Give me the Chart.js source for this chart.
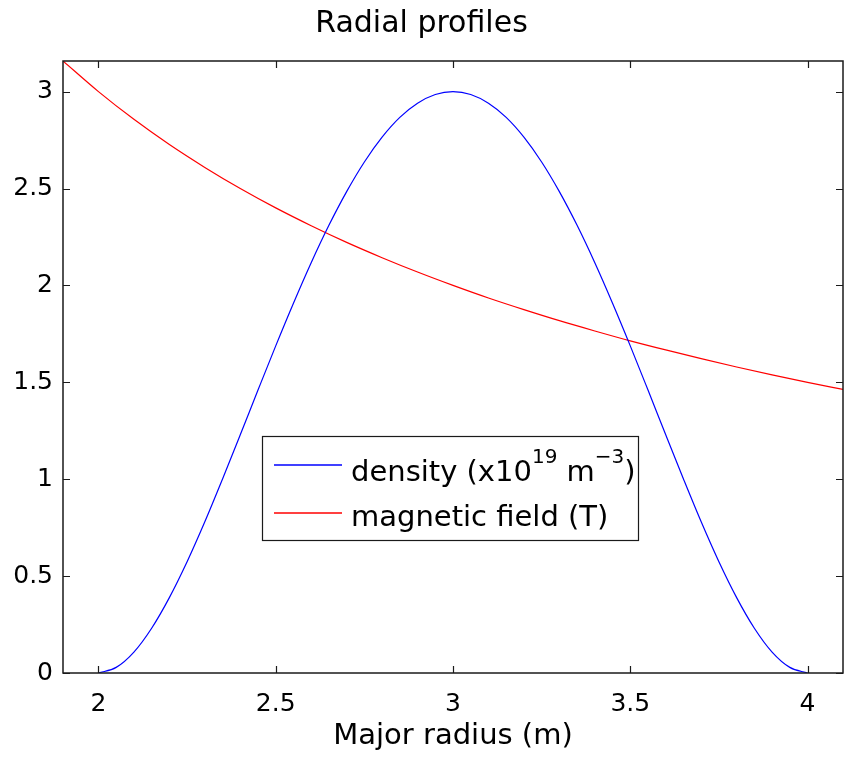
<!DOCTYPE html>
<html>
<head>
<meta charset="utf-8">
<script src="https://cdn.jsdelivr.net/npm/chart.js@4"></script>
<style>
  html, body { margin: 0; padding: 0; background: #ffffff; }
  #wrap { width: 844px; height: 762px; }
</style>
</head>
<body>
<div id="wrap"><canvas id="c" width="844" height="762"></canvas></div>
<script>
// ---- data ----
const chartTitle = 'Radial profiles';
const xAxisTitle = 'Major radius (m)';
const xTicks = [2, 2.5, 3, 3.5, 4];
const yTicks = [0, 0.5, 1, 1.5, 2, 2.5, 3];

const densityR = [2.00, 2.05, 2.10, 2.15, 2.20, 2.25, 2.30, 2.35, 2.40, 2.45,
                  2.50, 2.55, 2.60, 2.65, 2.70, 2.75, 2.80, 2.85, 2.90, 2.95,
                  3.00, 3.05, 3.10, 3.15, 3.20, 3.25, 3.30, 3.35, 3.40, 3.45,
                  3.50, 3.55, 3.60, 3.65, 3.70, 3.75, 3.80, 3.85, 3.90, 3.95, 4.00];
const densityValues = [0, 0.029, 0.108, 0.231, 0.389, 0.574, 0.780, 1.001, 1.229, 1.460,
                       1.688, 1.908, 2.117, 2.310, 2.484, 2.637, 2.765, 2.867, 2.940, 2.985,
                       3.000, 2.985, 2.940, 2.867, 2.765, 2.637, 2.484, 2.310, 2.117, 1.908,
                       1.688, 1.460, 1.229, 1.001, 0.780, 0.574, 0.389, 0.231, 0.108, 0.029, 0];

const fieldR = [1.9, 2.0, 2.1, 2.2, 2.3, 2.4, 2.5, 2.6, 2.7, 2.8, 2.9, 3.0,
                3.1, 3.2, 3.3, 3.4, 3.5, 3.6, 3.7, 3.8, 3.9, 4.0, 4.1];
const fieldValues = [3.158, 3.000, 2.857, 2.727, 2.609, 2.500, 2.400, 2.308, 2.222, 2.143, 2.069, 2.000,
                     1.935, 1.875, 1.818, 1.765, 1.714, 1.667, 1.622, 1.579, 1.538, 1.500, 1.463];

const seriesNames = ['density', 'magnetic field (T)'];

// ---- styles ----
const FONT = "'DejaVu Sans', sans-serif";
const seriesColors = ['#0000ff', '#ff0000'];

const framePlugin = {
  id: 'frame',
  beforeDraw(chart) {
    const ctx = chart.ctx;
    ctx.save();
    ctx.fillStyle = '#ffffff';
    ctx.fillRect(0, 0, chart.width, chart.height);
    ctx.restore();
  },
  afterDatasetsDraw(chart) {
    const ctx = chart.ctx;
    const a = chart.chartArea;
    const xs = chart.scales.x, ys = chart.scales.y;
    const tl = 7;
    ctx.save();
    ctx.strokeStyle = '#1a1a1a';
    ctx.lineWidth = 1.2;
    ctx.beginPath();
    xs.ticks.forEach(t => {
      const px = Math.round(xs.getPixelForValue(t.value)) + 0.5;
      ctx.moveTo(px, a.bottom); ctx.lineTo(px, a.bottom - tl);
      ctx.moveTo(px, a.top); ctx.lineTo(px, a.top + tl);
    });
    ys.ticks.forEach(t => {
      const py = Math.round(ys.getPixelForValue(t.value)) + 0.5;
      ctx.moveTo(a.left, py); ctx.lineTo(a.left + tl, py);
      ctx.moveTo(a.right, py); ctx.lineTo(a.right - tl, py);
    });
    ctx.stroke();
    ctx.lineWidth = 1.5;
    ctx.strokeRect(a.left, a.top, a.right - a.left, a.bottom - a.top);

    // legend box (MATLAB style, inside the axes)
    const bx = 262, by = 436, bw = 376, bh = 104;
    ctx.fillStyle = '#ffffff';
    ctx.fillRect(bx, by, bw, bh);
    ctx.lineWidth = 1.2;
    ctx.strokeStyle = '#1a1a1a';
    ctx.strokeRect(bx + 0.5, by + 0.5, bw, bh);
    const rows = [{ly: 465, base: 481}, {ly: 513, base: 526}];
    rows.forEach((r, i) => {
      ctx.beginPath();
      ctx.strokeStyle = seriesColors[i];
      ctx.lineWidth = 1.5;
      ctx.moveTo(274, r.ly);
      ctx.lineTo(342, r.ly);
      ctx.stroke();
    });
    ctx.fillStyle = '#000000';
    ctx.textBaseline = 'alphabetic';
    ctx.textAlign = 'left';
    const big = '29px ' + FONT, small = '20px ' + FONT;
    // row 1: density (x10^19 m^-3)
    let x = 351;
    const parts = [
      {t: seriesNames[0] + ' (x10', f: big, dy: 0},
      {t: '19', f: small, dy: -18},
      {t: ' m', f: big, dy: 0},
      {t: '\u22123', f: small, dy: -18},
      {t: ')', f: big, dy: 0}
    ];
    parts.forEach(p => {
      ctx.font = p.f;
      ctx.fillText(p.t, x, rows[0].base + p.dy);
      x += ctx.measureText(p.t).width;
    });
    ctx.font = big;
    ctx.fillText(seriesNames[1], 351, rows[1].base);
    ctx.restore();
  }
};

new Chart(document.getElementById('c'), {
  type: 'line',
  data: {
    datasets: [
      {
        label: seriesNames[0],
        data: densityR.map((r, i) => ({x: r, y: densityValues[i]})),
        borderColor: seriesColors[0],
        borderWidth: 1.2,
        pointRadius: 0,
        cubicInterpolationMode: 'monotone',
        fill: false
      },
      {
        label: seriesNames[1],
        data: fieldR.map((r, i) => ({x: r, y: fieldValues[i]})),
        borderColor: seriesColors[1],
        borderWidth: 1.2,
        pointRadius: 0,
        cubicInterpolationMode: 'monotone',
        fill: false
      }
    ]
  },
  options: {
    responsive: false,
    animation: false,
    events: [],
    layout: { padding: { left: 0, right: 1, top: 0, bottom: 0 } },
    plugins: {
      legend: { display: false },
      tooltip: { enabled: false },
      title: {
        display: true,
        text: chartTitle,
        color: '#000000',
        font: { family: FONT, size: 30, weight: 'normal' },
        padding: { top: 6, bottom: 19 }
      }
    },
    scales: {
      x: {
        type: 'linear',
        min: 1.9,
        max: 4.1,
        afterBuildTicks: s => { s.ticks = xTicks.map(v => ({value: v})); },
        afterFit: s => { s.height = 89; },
        grid: { display: false, drawTicks: false },
        border: { display: false },
        ticks: {
          color: '#000000',
          font: { family: FONT, size: 25 },
          padding: 16,
          maxRotation: 0,
          callback: v => String(v)
        },
        title: {
          display: true,
          text: xAxisTitle,
          color: '#000000',
          font: { family: FONT, size: 29 },
          padding: { top: 0, bottom: 8 }
        }
      },
      y: {
        type: 'linear',
        min: 0,
        max: 3.158,
        afterBuildTicks: s => { s.ticks = yTicks.map(v => ({value: v})); },
        afterFit: s => { s.width = 63; },
        grid: { display: false, drawTicks: false },
        border: { display: false },
        ticks: {
          color: '#000000',
          font: { family: FONT, size: 25 },
          padding: 10,
          callback: v => String(v)
        }
      }
    }
  },
  plugins: [framePlugin]
});
</script>
</body>
</html>
